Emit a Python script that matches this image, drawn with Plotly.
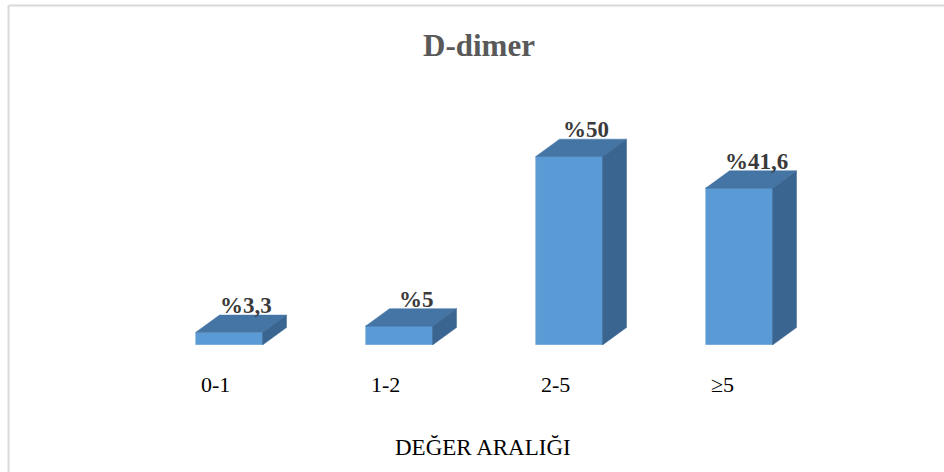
import plotly.graph_objects as go

categories = ["0-1", "1-2", "2-5", "≥5"]
values = [3.3, 5, 50, 41.6]
value_labels = ["%3,3", "%5", "%50", "%41,6"]
title_text = "D-dimer"
axis_title = "DEĞER ARALIĞI"

# layout in pixels
W, H = 944, 472
ML, MR, MT, MB = 144, 120, 119, 127
YMAX = 60
PX_X = (W - ML - MR) / 4.0          # px per category unit
PX_Y = (H - MT - MB) / YMAX          # px per value unit

BW = 67 / PX_X                       # bar width in category units
DX = 24 / PX_X                       # depth offset x
DY = 17.5 / PX_Y                     # depth offset y

FRONT = "#5B9BD5"
TOP = "#4475A5"
SIDE = "#3B6591"

idx = list(range(len(categories)))

fig = go.Figure()
fig.add_trace(go.Bar(x=idx, y=values, width=BW, marker=dict(color=FRONT, line=dict(color="#6FA8DC", width=0.6)),
                     hoverinfo="skip", showlegend=False))

top_x, top_y, side_x, side_y = [], [], [], []
for i, v in zip(idx, values):
    xl, xr = i - BW / 2, i + BW / 2
    top_x += [xl, xr, xr + DX, xl + DX, xl, None]
    top_y += [v, v, v + DY, v + DY, v, None]
    side_x += [xr, xr + DX, xr + DX, xr, xr, None]
    side_y += [0, DY, v + DY, v, 0, None]

fig.add_trace(go.Scatter(x=top_x, y=top_y, fill="toself", fillcolor=TOP, mode="lines",
                         line=dict(color=TOP, width=0.5), hoverinfo="skip", showlegend=False))
fig.add_trace(go.Scatter(x=side_x, y=side_y, fill="toself", fillcolor=SIDE, mode="lines",
                         line=dict(color=SIDE, width=0.5), hoverinfo="skip", showlegend=False))

annotations = []
for i, v, t in zip(idx, values, value_labels):
    annotations.append(dict(x=i, y=v + DY, xref="x", yref="y", text=t, showarrow=False,
                            xanchor="center", yanchor="bottom", xshift=17, yshift=-5,
                            font=dict(family="Liberation Serif", size=23, color="#3A3A3A", weight="bold")))
for i, c in zip(idx, categories):
    annotations.append(dict(x=i - BW / 2, y=(H - MB - 384) / (H - MT - MB), xref="x", yref="paper",
                            text=c, showarrow=False, xanchor="left", yanchor="middle", xshift=3,
                            font=dict(family="Liberation Serif", size=22, color="#000000")))
annotations.append(dict(x=(483 - ML) / (W - ML - MR), y=(H - MB - 447) / (H - MT - MB), xref="paper", yref="paper",
                        text=axis_title, showarrow=False, xanchor="center", yanchor="middle",
                        font=dict(family="Liberation Serif", size=23, color="#000000")))

px2x = lambda p: (p - ML) / (W - ML - MR)
px2y = lambda p: (H - MB - p) / (H - MT - MB)
shapes = [
    dict(type="line", xref="paper", yref="paper", x0=px2x(8.5), x1=px2x(960), y0=px2y(5.5), y1=px2y(5.5),
         line=dict(color="#D9D9D9", width=2)),
    dict(type="line", xref="paper", yref="paper", x0=px2x(8.5), x1=px2x(8.5), y0=px2y(5.5), y1=px2y(490),
         line=dict(color="#D9D9D9", width=2)),
]

fig.update_layout(
    width=W, height=H,
    margin=dict(l=ML, r=MR, t=MT, b=MB),
    paper_bgcolor="white", plot_bgcolor="white",
    title=dict(text=title_text, x=479 / W, xanchor="center", y=1 - 45 / H, yanchor="middle", yref="container",
               font=dict(family="Liberation Serif", size=31, color="#595959", weight="bold")),
    xaxis=dict(range=[-0.5, 3.5], showgrid=False, zeroline=False, showticklabels=False, showline=False, ticks=""),
    yaxis=dict(range=[0, YMAX], showgrid=False, zeroline=False, showticklabels=False, showline=False, ticks=""),
    annotations=annotations,
    shapes=shapes,
    bargap=0,
)

fig.write_html("out.html")
